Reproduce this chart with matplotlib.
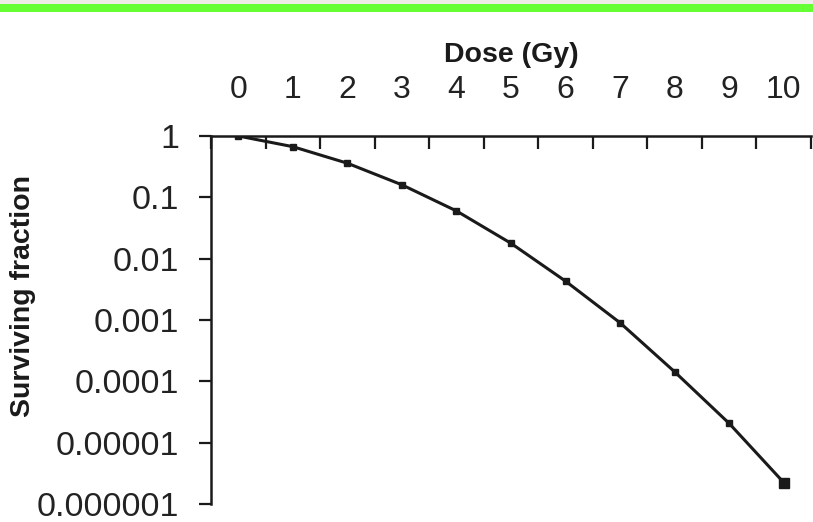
import matplotlib
matplotlib.use("Agg")
import matplotlib.pyplot as plt
from matplotlib.patches import Rectangle
from matplotlib.ticker import FixedLocator, FixedFormatter, NullFormatter

dose = [0, 1, 2, 3, 4, 5, 6, 7, 8, 9, 10]
surviving = [1.0, 0.67, 0.36, 0.16, 0.06, 0.0178, 0.0043, 0.0009, 1.43e-4, 2.06e-5, 2.24e-6]
x_tick_labels = ["0", "1", "2", "3", "4", "5", "6", "7", "8", "9", "10"]
y_ticks = [1, 0.1, 0.01, 0.001, 0.0001, 0.00001, 0.000001]
y_tick_labels = ["1", "0.1", "0.01", "0.001", "0.0001", "0.00001", "0.000001"]

plt.rcParams['font.family'] = ['Liberation Sans', 'DejaVu Sans']

W, H = 813, 522
fig = plt.figure(figsize=(W / 100, H / 100), dpi=100)
fig.patch.set_facecolor('white')

# top decoration: light strip + green bar
fig.patches.append(Rectangle((0, 1 - 4 / H), 1, 4 / H, transform=fig.transFigure,
                             facecolor='#efebe7', edgecolor='none', zorder=0))
fig.patches.append(Rectangle((0, 1 - 12 / H), 1, 8 / H, transform=fig.transFigure,
                             facecolor='#66ff33', edgecolor='none', zorder=0))

left, right = 211 / W, 811 / W
top, bottom = 1 - 136 / H, 1 - 504 / H
ax = fig.add_axes([left, bottom, right - left, top - bottom])

ax.plot(dose[:-1], surviving[:-1], color='#1a1a1a', lw=2.2, marker='s', ms=4.2,
        markerfacecolor='#1a1a1a', markeredgecolor='#1a1a1a', zorder=3)
ax.plot(dose[-2:], surviving[-2:], color='#1a1a1a', lw=2.2, zorder=3)
ax.plot(dose[-1:], surviving[-1:], linestyle='none', marker='s', ms=6.5,
        color='#1a1a1a', zorder=4)

ax.set_yscale('log')
ax.set_ylim(1e-6, 1)
ax.set_xlim(-0.5, 10.5)

# spines
for s in ['right', 'bottom']:
    ax.spines[s].set_visible(False)
for s in ['top', 'left']:
    ax.spines[s].set_linewidth(1.8)
    ax.spines[s].set_color('#1a1a1a')

# x axis on top
ax.xaxis.tick_top()
ax.xaxis.set_label_position('top')
ax.xaxis.set_major_locator(FixedLocator(dose))
ax.xaxis.set_major_formatter(FixedFormatter(x_tick_labels))
ax.xaxis.set_minor_locator(FixedLocator([d + 0.5 for d in dose] + [-0.5]))
ax.xaxis.set_minor_formatter(NullFormatter())
ax.tick_params(axis='x', which='major', length=0, pad=22, labelsize=23, labelcolor='#222222')
ax.tick_params(axis='x', which='minor', direction='in', length=9.5, width=1.6, color='#1a1a1a',
               top=True, bottom=False)
ax.set_xlabel('Dose (Gy)', fontsize=20.5, fontweight='bold', color='#1a1a1a', labelpad=10)

# y axis
ax.yaxis.set_major_locator(FixedLocator(y_ticks))
ax.yaxis.set_major_formatter(FixedFormatter(y_tick_labels))
ax.yaxis.set_minor_locator(FixedLocator([]))
ax.tick_params(axis='y', which='major', direction='out', length=8.5, width=1.6, color='#1a1a1a',
               pad=14.5, labelsize=24.5, labelcolor='#222222')
ax.set_ylabel('Surviving fraction', fontsize=20.5, fontweight='bold', color='#1a1a1a')
ax.yaxis.set_label_coords(-0.292, 0.564)

ax.set_facecolor('white')
fig.savefig('out.png', dpi=100, facecolor='white')
